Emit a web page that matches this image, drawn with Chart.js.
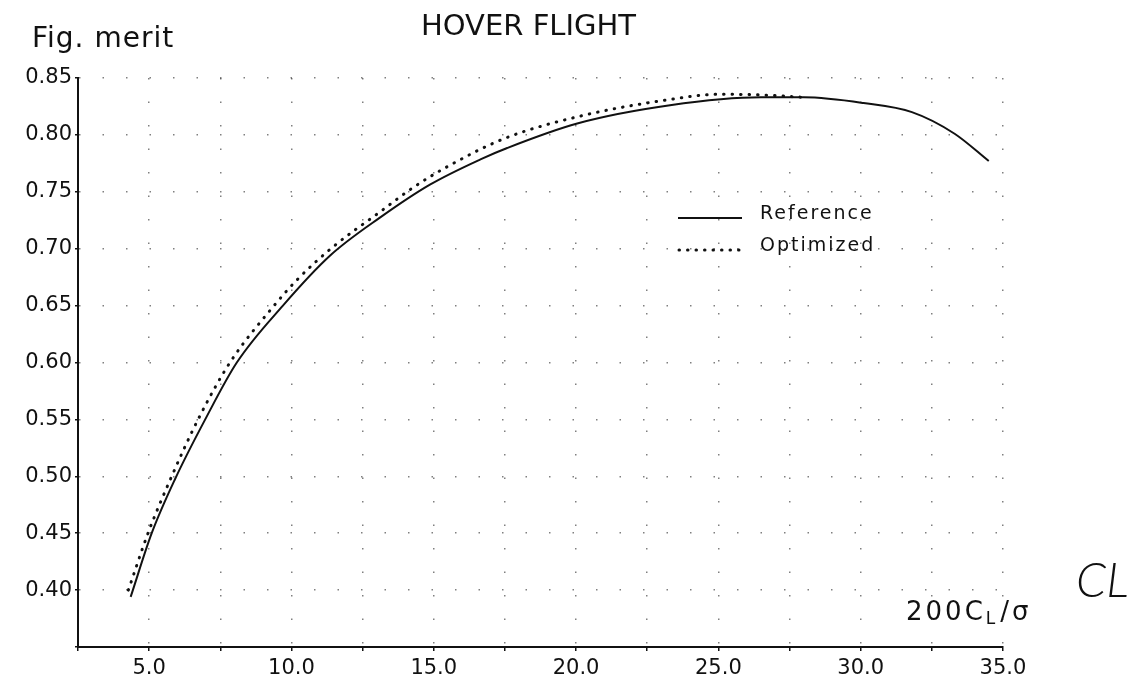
<!DOCTYPE html>
<html>
<head>
<meta charset="utf-8">
<script src="https://cdn.jsdelivr.net/npm/chart.js@4"></script>
<style>
  body { margin: 0; background: #fff; }
  #grafico { display: block; }
</style>
</head>
<body>
<canvas id="grafico" width="1130" height="682"></canvas>
<script>
// values
const refX = [4.35, 5.09, 5.9, 6.97, 8.08, 9.7, 11.36, 13.12, 14.88, 16.64, 17.58, 20.04, 23.3, 26.5, 28.0, 30.1, 31.8, 33.3, 34.5];
const refY = [0.394, 0.45, 0.497, 0.55, 0.60, 0.65, 0.694, 0.7275, 0.7565, 0.7785, 0.7885, 0.810, 0.826, 0.833, 0.833, 0.828, 0.820, 0.801, 0.777];
const optX = [4.27, 4.96, 5.74, 6.72, 7.84, 9.39, 10.19, 11.48, 13.12, 14.29, 15.47, 17.5, 20.16, 23.0, 25.08, 26.6, 28.0];
const optY = [0.400, 0.45, 0.497, 0.55, 0.60, 0.65, 0.6725, 0.702, 0.7325, 0.754, 0.772, 0.797, 0.8166, 0.830, 0.8357, 0.835, 0.833];
const nomes = ['Reference', 'Optimized'];
const titulo = 'HOVER FLIGHT';

const pontos = function (xs, ys) {
    return xs.map(function (x, i) { return { x: x, y: ys[i] }; });
};

const fonte = '"DejaVu Sans", sans-serif';

// title, axis names, legend and the handwritten note
const textos = {
    id: 'textos',
    afterDraw: function (chart) {
        const c = chart.ctx;
        c.save();
        c.fillStyle = '#111';
        c.textBaseline = 'alphabetic';
        c.textAlign = 'left';

        c.font = '29px ' + fonte;
        c.fillText(titulo, 421, 35);

        c.font = '28px ' + fonte;
        c.letterSpacing = '1px';
        c.fillText('Fig. merit', 32, 47);

        // x axis name 200CL/σ
        c.letterSpacing = '3px';
        c.font = '26px ' + fonte;
        let x = 906;
        c.fillText('200C', x, 620);
        x += c.measureText('200C').width;
        c.font = '17px ' + fonte;
        c.fillText('L', x, 624);
        x += c.measureText('L').width + 2;
        c.font = '26px ' + fonte;
        c.fillText('/σ', x, 620);
        c.letterSpacing = '0px';

        // handwritten CL
        c.font = 'italic 300 48px Lato, sans-serif';
        c.fillText('CL', 1076, 597);

        // legend
        c.strokeStyle = '#111';
        c.lineWidth = 2;
        c.beginPath();
        c.moveTo(678, 218);
        c.lineTo(742, 218);
        c.stroke();
        c.setLineDash([0.5, 8]);
        c.lineCap = 'round';
        c.lineWidth = 3;
        c.beginPath();
        c.moveTo(679, 250);
        c.lineTo(744, 250);
        c.stroke();
        c.setLineDash([]);
        c.font = '19px ' + fonte;
        c.letterSpacing = '2px';
        c.fillText(nomes[0], 760, 219);
        c.fillText(nomes[1], 760, 251);
        c.restore();
    }
};

const ctx = document.getElementById('grafico');

new Chart(ctx, {
    type: 'line',
    data: {
        datasets: [{
            label: nomes[0],
            data: pontos(refX, refY),
            borderColor: '#111',
            borderWidth: 2,
            pointRadius: 0,
            cubicInterpolationMode: 'monotone'
        }, {
            label: nomes[1],
            data: pontos(optX, optY),
            borderColor: '#111',
            borderWidth: 3,
            borderDash: [0.5, 8],
            borderCapStyle: 'round',
            pointRadius: 0,
            cubicInterpolationMode: 'monotone'
        }]
    },
    options: {
        responsive: false,
        animation: false,
        layout: {
            padding: { left: 0, top: 78, right: 127, bottom: 0 }
        },
        plugins: {
            legend: { display: false },
            tooltip: { enabled: false }
        },
        scales: {
            x: {
                type: 'linear',
                min: 2.5,
                max: 35,
                afterFit: function (s) { s.height = 35; },
                ticks: {
                    stepSize: 2.5,
                    padding: 5,
                    color: '#111',
                    font: { family: fonte, size: 21 },
                    maxRotation: 0,
                    autoSkip: false,
                    callback: function (v) {
                        return Math.abs(v % 5) < 1e-6 ? v.toFixed(1) : '';
                    }
                },
                grid: {
                    color: 'rgba(0,0,0,0.5)',
                    lineWidth: 1.5,
                    tickLength: 4,
                    tickColor: '#111'
                },
                border: { color: '#111', width: 2, dash: [1.5, 22] }
            },
            y: {
                min: 0.35,
                max: 0.85,
                afterFit: function (s) { s.width = 78; },
                ticks: {
                    stepSize: 0.05,
                    padding: 3,
                    color: '#111',
                    font: { family: fonte, size: 21 },
                    callback: function (v) {
                        return v < 0.375 ? '' : v.toFixed(2);
                    }
                },
                grid: {
                    color: 'rgba(0,0,0,0.5)',
                    lineWidth: 1.5,
                    tickLength: 3,
                    tickColor: '#111'
                },
                border: { color: '#111', width: 2, dash: [1.5, 22] }
            }
        }
    },
    plugins: [textos]
});
</script>
</body>
</html>
